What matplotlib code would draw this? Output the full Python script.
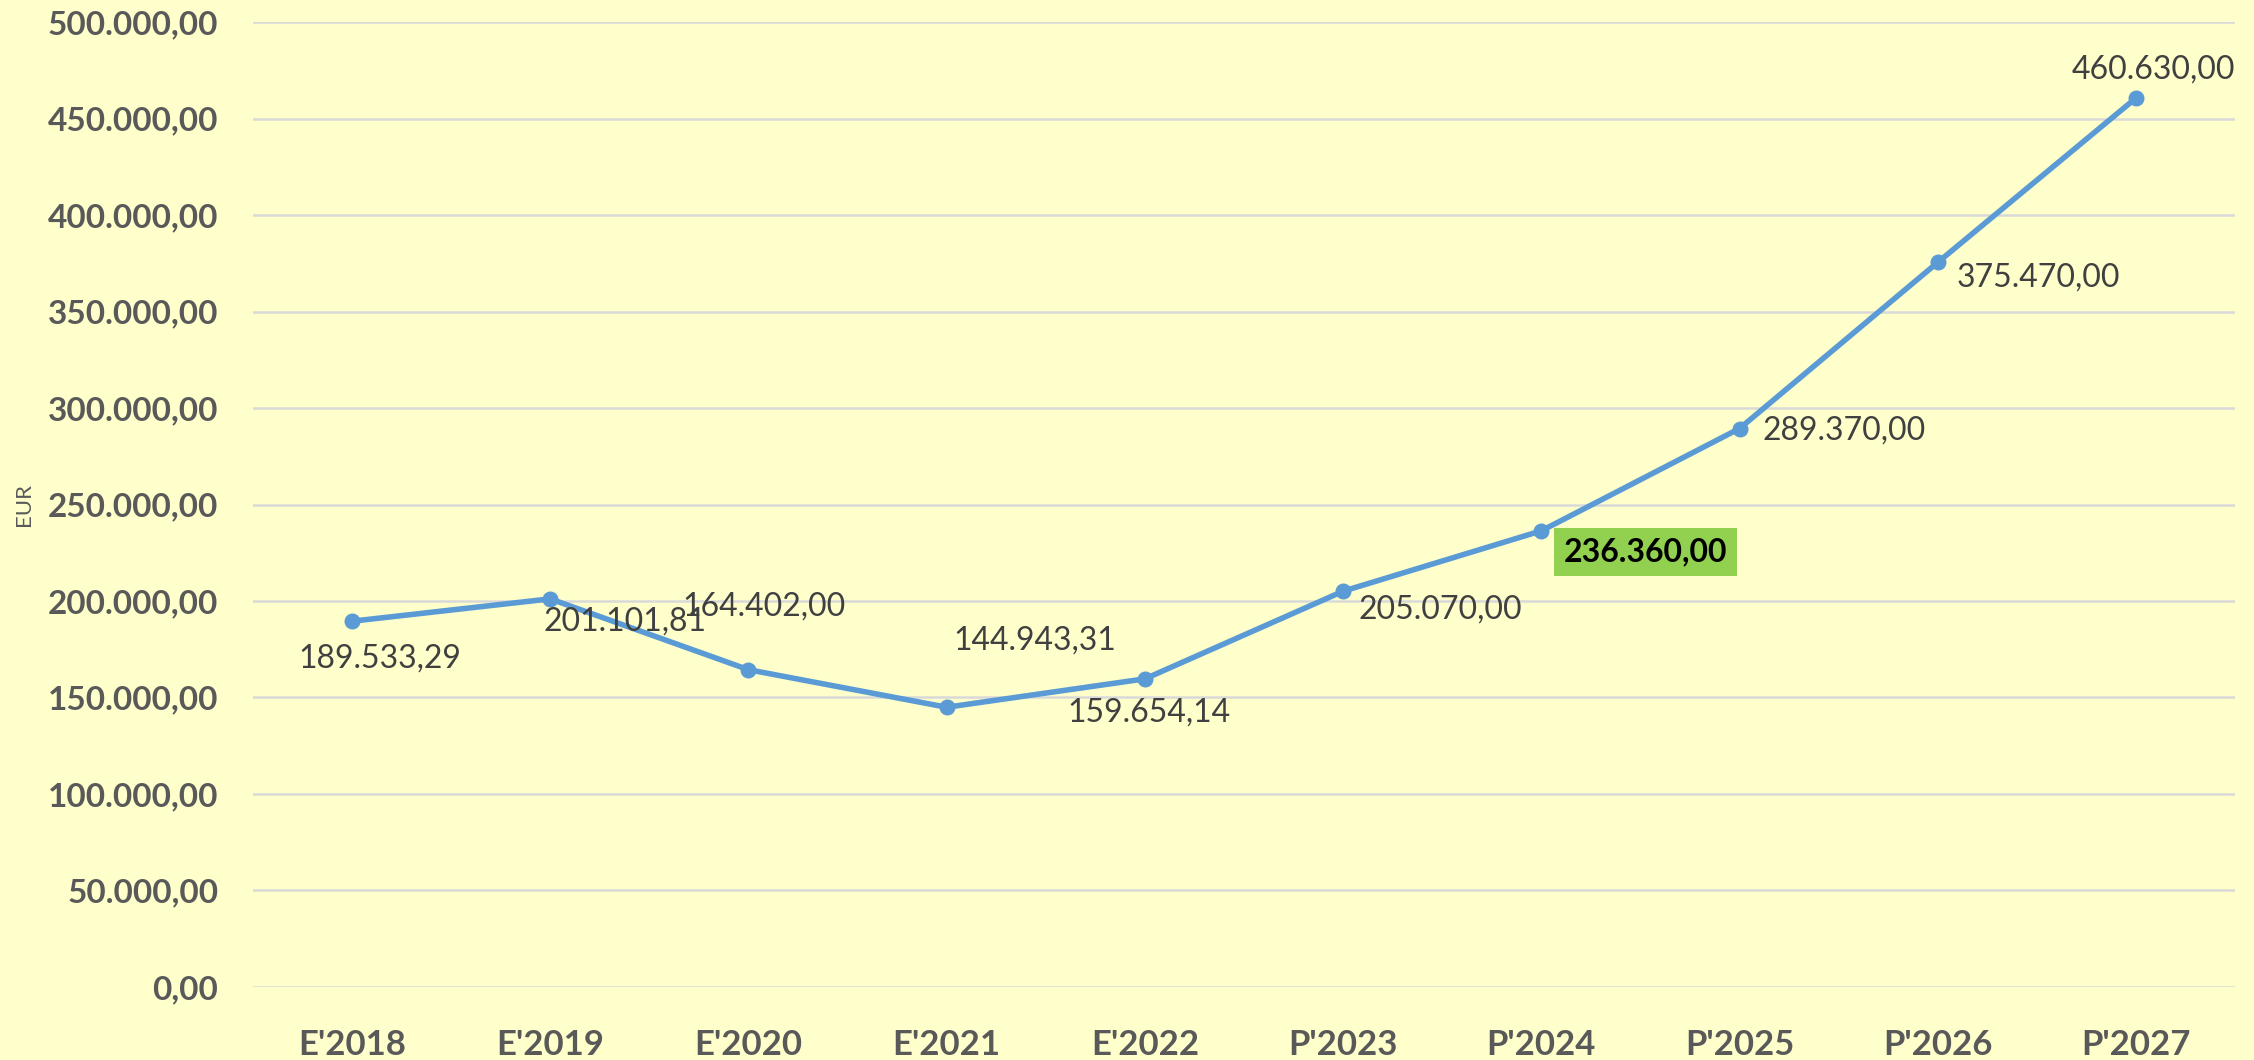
import matplotlib.pyplot as plt
from matplotlib.ticker import FuncFormatter

plt.rcParams['font.family'] = ['Lato', 'DejaVu Sans']

categories = ["E'2018", "E'2019", "E'2020", "E'2021", "E'2022",
              "P'2023", "P'2024", "P'2025", "P'2026", "P'2027"]
values = [189533.29, 201101.81, 164402.00, 144943.31, 159654.14,
          205070.00, 236360.00, 289370.00, 375470.00, 460630.00]

# label offsets in pixels from each point (x right, y up)
label_offsets = [(28, -37), (75, -23), (16, 63), (88, 67), (4, -34),
                 (97, -18), (104, -21), (105, -2), (101, -15), (17, 28)]
highlight = 6

bg = "#FFFFCC"
line_col = "#5B9BD5"
text_col = "#595959"


def eur(v, pos=None):
    s = f"{v:,.2f}"
    return s.replace(",", "X").replace(".", ",").replace("X", ".")


fig = plt.figure(figsize=(22.54, 10.6), dpi=100, facecolor=bg)
ax = fig.add_axes([0.1122, 0.0689, 0.8794, 0.9103], facecolor=bg)

x = list(range(len(categories)))
ax.plot(x, values, color=line_col, linewidth=4, marker="o",
        markersize=10.5, zorder=3)

ax.set_xlim(-0.5, len(categories) - 0.5)
ax.set_ylim(0, 500000)
ax.set_yticks(range(0, 500001, 50000))
ax.yaxis.set_major_formatter(FuncFormatter(eur))
ax.set_xticks(x)
ax.set_xticklabels(categories)

ax.grid(axis="y", color="#D9D9D9", linewidth=1.8, zorder=0)
for s in ax.spines.values():
    s.set_visible(False)
ax.tick_params(axis="both", length=0, colors=text_col)
ax.tick_params(axis="y", pad=25, labelsize=24)
ax.tick_params(axis="x", pad=30, labelsize=25)
for lab in ax.get_xticklabels() + ax.get_yticklabels():
    lab.set_fontweight("bold")

for i, (xi, v) in enumerate(zip(x, values)):
    dx, dy = label_offsets[i]
    if i == highlight:
        ax.annotate(eur(v), (xi, v), xytext=(dx, dy), textcoords="offset pixels",
                    ha="center", va="center", fontsize=23, fontweight="bold",
                    color="black",
                    bbox=dict(boxstyle="square,pad=0.3", fc="#92D050", ec="none"))
    else:
        ax.annotate(eur(v), (xi, v), xytext=(dx, dy), textcoords="offset pixels",
                    ha="center", va="center", fontsize=23, color="#404040")

fig.text(24.5 / 2254, 1 - 504 / 1060, "EUR", rotation=90, ha="center",
         va="center", fontsize=16, color=text_col)

fig.savefig("out.png", dpi=100, facecolor=bg)
